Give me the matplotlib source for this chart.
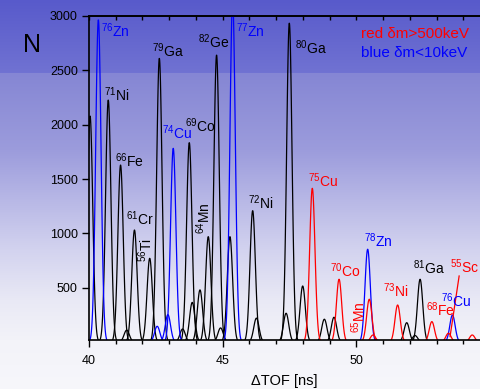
import numpy as np
import matplotlib
matplotlib.use("Agg")
import matplotlib.pyplot as plt

plt.rcParams['font.family'] = ['Liberation Sans', 'DejaVu Sans']
plt.rcParams['mathtext.fontset'] = 'custom'
plt.rcParams['mathtext.rm'] = 'Liberation Sans'
plt.rcParams['mathtext.default'] = 'regular'

# Peak centres (ns) and heights (counts).
black_pos = [40.04, 40.72, 41.18, 41.41, 41.70, 42.27, 42.63, 43.50, 43.75, 43.86,
             44.15, 44.46, 44.77, 44.92, 45.27, 46.12, 46.26, 47.37, 47.49, 47.99,
             48.80, 49.16, 51.88, 52.19, 52.38]
black_h = [2080, 2227, 1629, 110, 1031, 771, 2611, 120, 1835, 365,
           480, 970, 2641, 130, 970, 1209, 220, 265, 2935, 516,
           210, 228, 178, 60, 578]
blue_pos = [40.35, 42.55, 42.95, 43.15, 45.37, 50.42, 53.59]
blue_h = [2965, 145, 252, 1783, 3150, 854, 249]
red_pos = [48.35, 49.35, 50.48, 50.62, 51.54, 52.82, 53.44, 54.33]
red_h = [1415, 578, 394, 65, 341, 188, 81, 65]
sc55_x = [53.50, 53.84]
sc55_y = [50, 608]
sigma = 0.1

# Labels: (text, x, y, colour)
labels = [
    (r'$^{76}$Zn', 40.44, 2805, 'blue'),
    (r'$^{71}$Ni', 40.57, 2218, 'black'),
    (r'$^{66}$Fe', 40.97, 1608, 'black'),
    (r'$^{61}$Cr', 41.38, 1077, 'black'),
    (r'$^{79}$Ga', 42.37, 2620, 'black'),
    (r'$^{74}$Cu', 42.74, 1868, 'blue'),
    (r'$^{69}$Co', 43.59, 1936, 'black'),
    (r'$^{82}$Ge', 44.09, 2703, 'black'),
    (r'$^{77}$Zn', 45.50, 2805, 'blue'),
    (r'$^{72}$Ni', 45.96, 1224, 'black'),
    (r'$^{80}$Ga', 47.70, 2648, 'black'),
    (r'$^{75}$Cu', 48.18, 1430, 'red'),
    (r'$^{70}$Co', 49.01, 596, 'red'),
    (r'$^{78}$Zn', 50.30, 872, 'blue'),
    (r'$^{73}$Ni', 51.01, 412, 'red'),
    (r'$^{81}$Ga', 52.13, 624, 'black'),
    (r'$^{68}$Fe', 52.59, 240, 'red'),
    (r'$^{76}$Cu', 53.15, 326, 'blue'),
    (r'$^{55}$Sc', 53.50, 633, 'red'),
]
rot_labels = [
    (r'$^{56}$Ti', 42.13, 847, 'black'),
    (r'$^{64}$Mn', 44.30, 1142, 'black'),
    (r'$^{65}$Mn', 50.10, 233, 'red'),
]

fig = plt.figure(figsize=(4.8, 3.89), dpi=100)

# background gradient
rows = np.arange(389)
stops_y = [0, 72, 73, 150, 200, 250, 300, 340, 389]
r = np.interp(rows, stops_y, [88, 112, 133, 156, 184, 211, 233, 243, 247])
g = np.interp(rows, stops_y, [90, 114, 134, 156, 184, 211, 233, 243, 247])
b = np.interp(rows, stops_y, [203, 210, 212, 220, 230, 239, 245, 249, 251])
grad = np.stack([r, g, b], axis=1)[:, None, :] / 255.0
grad = np.repeat(grad, 480, axis=1)
bg = fig.add_axes([0, 0, 1, 1], zorder=-1)
bg.imshow(grad, aspect='auto')
bg.axis('off')

ax = fig.add_axes([89/480, 49/389, 391/480, 324/389])
ax.set_facecolor('none')

for pos, hts, col in [(black_pos, black_h, 'black'), (blue_pos, blue_h, 'blue'),
                      (red_pos, red_h, 'red')]:
    for c, h in zip(pos, hts):
        x = np.linspace(c - 0.45, c + 0.45, 120)
        ax.plot(x, h*np.exp(-0.5*((x - c)/sigma)**2), color=col, lw=0.9)
ax.plot(sc55_x, sc55_y, color='red', lw=0.9)

for t, x, y, col in labels:
    ax.text(x, y, t, color=col, fontsize=10, ha='left', va='baseline')
for t, x, y, col in rot_labels:
    ax.text(x, y, t, color=col, fontsize=10, rotation=90, ha='center', va='center')

ax.text(50.16, 2800, 'red δm>500keV', color='red', fontsize=11)
ax.text(50.16, 2620, 'blue δm<10keV', color='blue', fontsize=11)

ax.set_xlim(40, 54.62)
ax.set_ylim(19, 3000)
ax.set_xticks([40, 45, 50])
ax.set_xticks(np.arange(40, 55), minor=True)
ax.set_yticks([500, 1000, 1500, 2000, 2500, 3000])
ax.tick_params(axis='both', which='major', direction='out', length=5, width=1, labelsize=9, pad=3)
ax.tick_params(axis='x', which='minor', direction='out', length=3, width=1)
ax.tick_params(axis='x', pad=6)
ax.spines['right'].set_visible(False)
for s in ['left', 'bottom', 'top']:
    ax.spines[s].set_linewidth(1.2)

top = ax.secondary_xaxis('top')
top.set_xticks(np.arange(40, 55))
top.tick_params(direction='in', length=3, width=1, labeltop=False)
top.spines['top'].set_linewidth(1.2)

ax.set_xlabel('ΔTOF [ns]', fontsize=10.5, labelpad=5)
fig.text(32/480, 1 - 45/389, 'N', fontsize=18, ha='center', va='center')

fig.savefig('out.png', dpi=100)
